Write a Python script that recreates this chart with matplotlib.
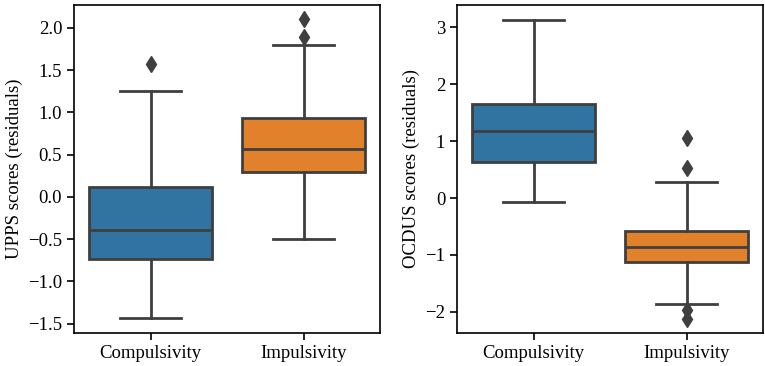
import matplotlib
matplotlib.use("Agg")
import matplotlib.pyplot as plt

plt.rcParams['font.family'] = ['Liberation Serif', 'DejaVu Serif']
plt.rcParams['font.size'] = 13.5

groups = ['Compulsivity', 'Impulsivity']
colors = ['#3274a1', '#e1812c']

# box stats: low whisker, Q1, median, Q3, high whisker
upps_low = [-1.43, -0.50]
upps_q1 = [-0.74, 0.29]
upps_med = [-0.39, 0.57]
upps_q3 = [0.12, 0.93]
upps_high = [1.25, 1.80]
upps_out = [[1.57], [1.89, 2.10]]

ocdus_low = [-0.07, -1.86]
ocdus_q1 = [0.63, -1.13]
ocdus_med = [1.17, -0.86]
ocdus_q3 = [1.65, -0.57]
ocdus_high = [3.12, 0.28]
ocdus_out = [[], [0.52, 1.05, -1.97, -2.13]]


def make_stats(low, q1, med, q3, high, out):
    st = []
    for i in range(len(groups)):
        st.append(dict(whislo=low[i], q1=q1[i], med=med[i], q3=q3[i],
                       whishi=high[i], fliers=out[i], label=groups[i]))
    return st


def draw(ax, stats, ylabel, ylim, yticks, ticklabels):
    edge = '#3f3f3f'
    lw = 2.0
    bp = ax.bxp(stats, positions=[0, 1], widths=0.8, patch_artist=True,
                showfliers=True, capwidths=0.4,
                boxprops=dict(edgecolor=edge, linewidth=lw),
                medianprops=dict(color=edge, linewidth=lw),
                whiskerprops=dict(color=edge, linewidth=lw),
                capprops=dict(color=edge, linewidth=lw),
                flierprops=dict(marker='d', markerfacecolor=edge,
                                markeredgecolor=edge, markersize=8))
    for patch, c in zip(bp['boxes'], colors):
        patch.set_facecolor(c)
    ax.set_xlim(-0.5, 1.5)
    ax.set_ylim(*ylim)
    ax.set_yticks(yticks)
    ax.set_yticklabels(ticklabels)
    ax.set_xticks([0, 1])
    ax.set_xticklabels(groups)
    ax.set_ylabel(ylabel, labelpad=4)
    ax.tick_params(length=5, width=1.2, color='black', labelsize=13.5)
    for s in ax.spines.values():
        s.set_color('black')
        s.set_linewidth(1.2)


fig = plt.figure(figsize=(7.65, 3.66), dpi=100)
ax1 = fig.add_axes([74 / 765, 33 / 366, 306 / 765, 328 / 366])
ax2 = fig.add_axes([457 / 765, 33 / 366, 306 / 765, 328 / 366])

draw(ax1, make_stats(upps_low, upps_q1, upps_med, upps_q3, upps_high, upps_out),
     'UPPS scores (residuals)', (-1.61, 2.27),
     [-1.5, -1.0, -0.5, 0.0, 0.5, 1.0, 1.5, 2.0],
     ['\u22121.5', '\u22121.0', '\u22120.5', '0.0', '0.5', '1.0', '1.5', '2.0'])
draw(ax2, make_stats(ocdus_low, ocdus_q1, ocdus_med, ocdus_q3, ocdus_high, ocdus_out),
     'OCDUS scores (residuals)', (-2.37, 3.39),
     [-2, -1, 0, 1, 2, 3],
     ['\u22122', '\u22121', '0', '1', '2', '3'])

fig.savefig('out.png', dpi=100)
